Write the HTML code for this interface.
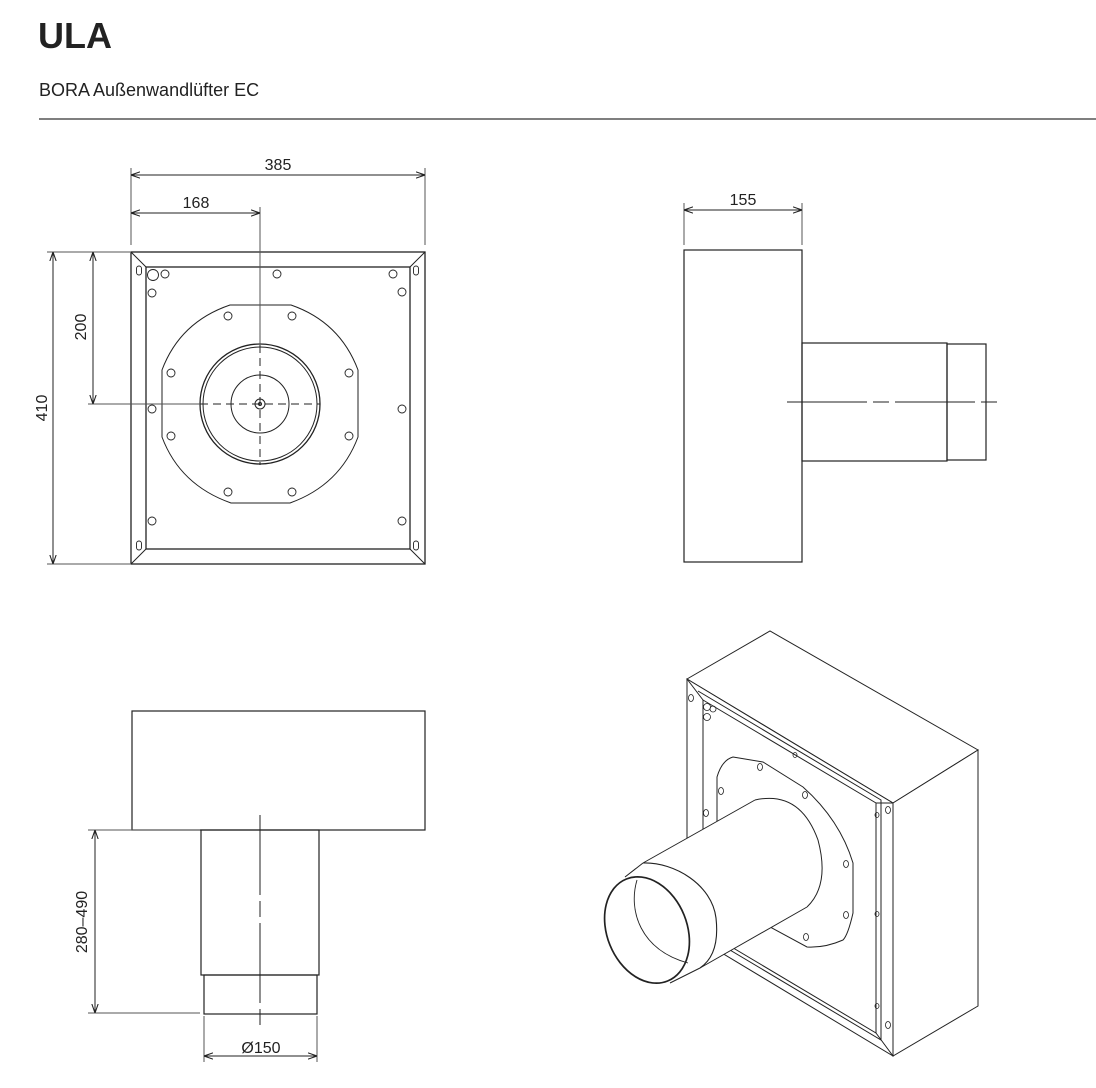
<!DOCTYPE html>
<html><head><meta charset="utf-8"><style>
html,body{margin:0;padding:0;background:#fff;}
svg{display:block;}
text{font-family:"Liberation Sans",sans-serif;fill:#222;}
</style></head><body>
<svg width="1096" height="1088" viewBox="0 0 1096 1088" xmlns="http://www.w3.org/2000/svg">
<defs>
<marker id="a" viewBox="0 0 10 10" refX="10" refY="5" markerWidth="9" markerHeight="9" orient="auto-start-reverse" markerUnits="userSpaceOnUse"><path d="M0,1.5 L10,5 L0,8.5" fill="none" stroke="#222" stroke-width="1.2"/></marker>
</defs>
<text x="38" y="48" font-size="36" font-weight="bold" fill="#111">ULA</text>
<text x="39" y="96" font-size="18" fill="#333">BORA Außenwandlüfter EC</text>
<line x1="39" y1="119" x2="1096" y2="119" stroke="#333" stroke-width="1.2"/>

<g stroke="#222" fill="none" stroke-width="1">
<!-- FRONT VIEW -->
<rect x="131" y="252" width="294" height="312" stroke-width="1.3"/>
<rect x="146" y="267" width="264" height="282" stroke-width="1.3"/>
<path d="M131,252 L146,267 M425,252 L410,267 M131,564 L146,549 M425,564 L410,549"/>
<path d="M230,305 L291,305 Q340,322 358,370 L358,437 Q340,485 290,503 L231,503 Q180,485 162,437 L162,370 Q180,322 230,305 Z"/>
<circle cx="260" cy="404" r="60" stroke-width="1.3"/>
<circle cx="260" cy="404" r="57"/>
<circle cx="260" cy="404" r="29"/>
<circle cx="260" cy="404" r="5"/>
<circle cx="260" cy="404" r="1.5"/>
<g stroke-width="0.9">
<circle cx="228" cy="316" r="4"/><circle cx="292" cy="316" r="4"/>
<circle cx="171" cy="373" r="4"/><circle cx="349" cy="373" r="4"/>
<circle cx="171" cy="436" r="4"/><circle cx="349" cy="436" r="4"/>
<circle cx="228" cy="492" r="4"/><circle cx="292" cy="492" r="4"/>
<circle cx="153" cy="275" r="5.5"/><circle cx="165" cy="274" r="4"/>
<circle cx="277" cy="274" r="4"/><circle cx="393" cy="274" r="4"/>
<circle cx="402" cy="292" r="4"/><circle cx="152" cy="293" r="4"/>
<circle cx="152" cy="409" r="4"/><circle cx="402" cy="409" r="4"/>
<circle cx="152" cy="521" r="4"/><circle cx="402" cy="521" r="4"/>
<rect x="136.5" y="266" width="5" height="9" rx="2.5"/><rect x="413.5" y="266" width="5" height="9" rx="2.5"/>
<rect x="136.5" y="541" width="5" height="9" rx="2.5"/><rect x="413.5" y="541" width="5" height="9" rx="2.5"/>
</g>
<line x1="200" y1="404" x2="320" y2="404" stroke-dasharray="8,5"/>
<line x1="260" y1="345" x2="260" y2="465" stroke-dasharray="8,5"/>
<line x1="260" y1="207" x2="260" y2="345" stroke="#555"/>
<line x1="88" y1="404" x2="200" y2="404" stroke="#555"/>
<!-- dims -->
<line x1="131" y1="168" x2="131" y2="245" stroke="#555"/>
<line x1="425" y1="168" x2="425" y2="245" stroke="#555"/>
<line x1="131" y1="175" x2="425" y2="175" marker-start="url(#a)" marker-end="url(#a)"/>
<line x1="131" y1="213" x2="260" y2="213" marker-start="url(#a)" marker-end="url(#a)"/>
<line x1="47" y1="252" x2="130" y2="252" stroke="#555"/>
<line x1="47" y1="564" x2="130" y2="564" stroke="#555"/>
<line x1="53" y1="252" x2="53" y2="564" marker-start="url(#a)" marker-end="url(#a)"/>
<line x1="93" y1="252" x2="93" y2="404" marker-start="url(#a)" marker-end="url(#a)"/>

<!-- SIDE VIEW -->
<rect x="684" y="250" width="118" height="312" stroke-width="1.2"/>
<rect x="802" y="343" width="145" height="118" stroke-width="1.2"/>
<rect x="947" y="344" width="39" height="116" stroke-width="1.2"/>
<line x1="787" y1="402" x2="1000" y2="402" stroke-dasharray="80,6,16,6"/>
<line x1="684" y1="203" x2="684" y2="245" stroke="#555"/>
<line x1="802" y1="203" x2="802" y2="245" stroke="#555"/>
<line x1="684" y1="210" x2="802" y2="210" marker-start="url(#a)" marker-end="url(#a)"/>

<!-- BOTTOM VIEW -->
<rect x="132" y="711" width="293" height="119" stroke-width="1.2"/>
<rect x="201" y="830" width="118" height="145" stroke-width="1.2"/>
<rect x="204" y="975" width="113" height="39" stroke-width="1.2"/>
<line x1="260" y1="815" x2="260" y2="1030" stroke-dasharray="80,6,16,6"/>
<line x1="88" y1="830" x2="200" y2="830" stroke="#555"/>
<line x1="88" y1="1013" x2="200" y2="1013" stroke="#555"/>
<line x1="95" y1="830" x2="95" y2="1013" marker-start="url(#a)" marker-end="url(#a)"/>
<line x1="204" y1="1016" x2="204" y2="1062" stroke="#555"/>
<line x1="317" y1="1016" x2="317" y2="1062" stroke="#555"/>
<line x1="204" y1="1056" x2="317" y2="1056" marker-start="url(#a)" marker-end="url(#a)"/>

<!-- ISOMETRIC -->
<g stroke-width="1">
<path d="M687,679 L770,631 L978,750 L893,803 Z" fill="#fff"/>
<path d="M893,803 L978,750 L978,1006 L893,1056 Z" fill="#fff"/>
<path d="M687,679 L893,803 L893,1056 L687,932 Z" fill="#fff"/>
<path d="M698,691 L881,800 L881,1040 L698,931"/>
<path d="M703,700 L876,803 L876,1033 L703,930 Z"/>
<path d="M687,679 L703,700 M893,803 L876,803 M893,1056 L876,1033"/>
<path d="M733,757 L763,762 L803,787 Q840,820 853,863 L853,913 Q848,935 843,940 Q825,948 807,947 L770,927 Q740,905 717,880 L717,777 Q722,760 733,757 Z" fill="#fff"/>
<g stroke-width="0.8">
<ellipse cx="760" cy="767" rx="2.5" ry="3.5"/><ellipse cx="805" cy="795" rx="2.5" ry="3.5"/>
<ellipse cx="721" cy="791" rx="2.5" ry="3.5"/><ellipse cx="846" cy="864" rx="2.5" ry="3.5"/>
<ellipse cx="846" cy="915" rx="2.5" ry="3.5"/><ellipse cx="806" cy="937" rx="2.5" ry="3.5"/>
<ellipse cx="706" cy="813" rx="2.5" ry="3.5"/>
<ellipse cx="691" cy="698" rx="2.5" ry="3.5"/><ellipse cx="888" cy="810" rx="2.5" ry="3.5"/><ellipse cx="888" cy="1025" rx="2.5" ry="3.5"/>
<circle cx="707" cy="707" r="3.5"/><circle cx="707" cy="717" r="3.5"/><circle cx="713" cy="709" r="3"/>
<ellipse cx="795" cy="755" rx="2" ry="2.5"/><ellipse cx="877" cy="815" rx="2" ry="2.5"/>
<ellipse cx="877" cy="914" rx="2" ry="2.5"/><ellipse cx="877" cy="1006" rx="2" ry="2.5"/>
</g>
<!-- tube -->
<path d="M755,800 Q800,790 818,840 Q830,885 807,907 L700,968 L643,863 Z" fill="#fff" stroke="none"/>
<path d="M755,800 Q800,790 818,840 Q830,885 807,907"/>
<line x1="755" y1="800" x2="643" y2="863"/>
<line x1="807" y1="907" x2="700" y2="968"/>
<!-- collar -->
<path d="M625,877 L643,863 Q705,870 717,913 Q720,950 700,968 L670,983 Z" fill="#fff" stroke="none"/>
<line x1="625" y1="877" x2="643" y2="863"/>
<line x1="670" y1="983" x2="700" y2="968"/>
<path d="M643,863 C675,862 712,885 716,918 C719,945 712,960 700,968" stroke-width="1.1"/>
<ellipse cx="647" cy="930" rx="40" ry="55" transform="rotate(-22 647 930)" fill="#fff" stroke-width="1.7"/>
<path d="M637,880 C628,910 640,950 688,963" stroke-width="0.9"/>
</g>
</g>

<text x="278" y="170" font-size="16" text-anchor="middle">385</text>
<text x="196" y="208" font-size="16" text-anchor="middle">168</text>
<text x="743" y="205" font-size="16" text-anchor="middle">155</text>
<text x="261" y="1053" font-size="16" text-anchor="middle">Ø150</text>
<text transform="translate(47,408) rotate(-90)" font-size="16" text-anchor="middle">410</text>
<text transform="translate(86,327) rotate(-90)" font-size="16" text-anchor="middle">200</text>
<text transform="translate(87,922) rotate(-90)" font-size="16" text-anchor="middle">280–490</text>
</svg>
</body></html>
